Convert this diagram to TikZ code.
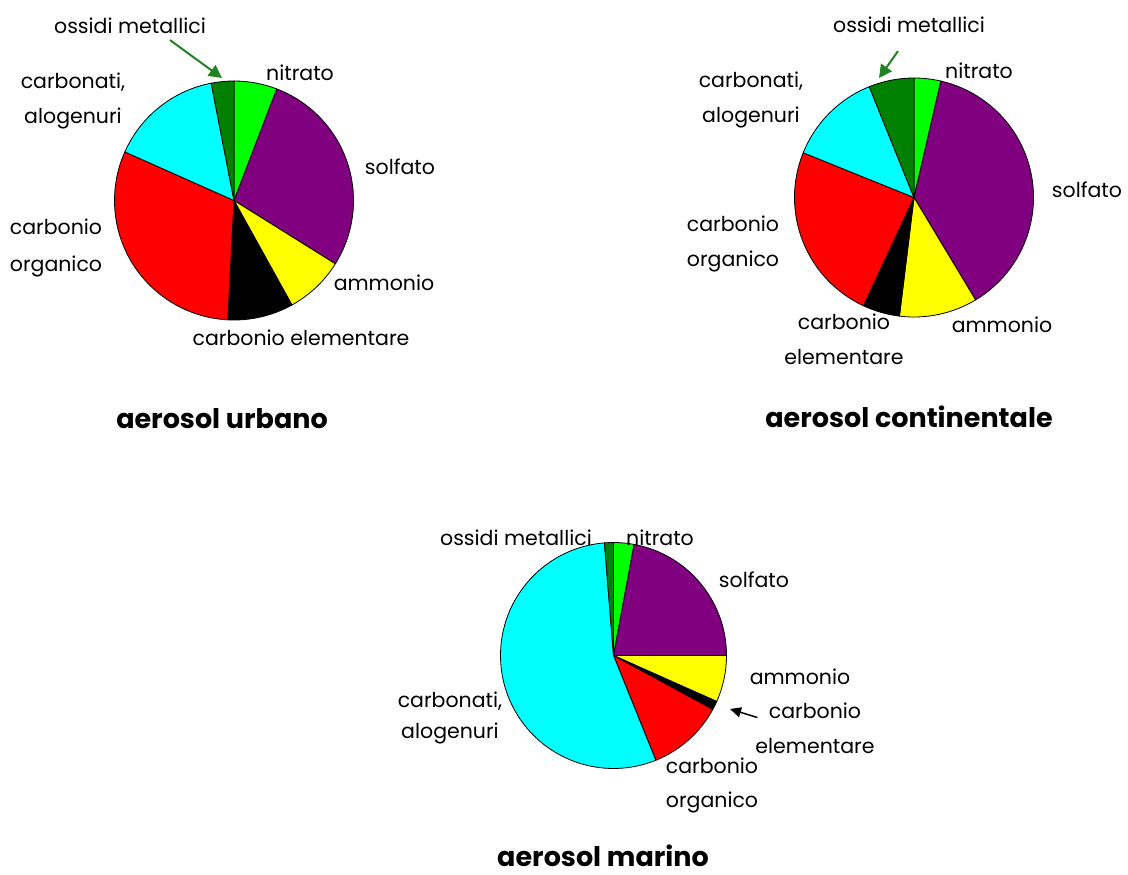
\documentclass[tikz,border=0pt]{standalone}
\usepackage{fontspec}
\setmainfont{Poppins}
\usepackage{xcolor}
\usetikzlibrary{arrows.meta}
\definecolor{colnitrato}{RGB}{0,255,0}
\definecolor{colsolfato}{RGB}{128,0,128}
\definecolor{colammonio}{RGB}{255,255,0}
\definecolor{colelement}{RGB}{0,0,0}
\definecolor{colorganico}{RGB}{255,0,0}
\definecolor{colcarbonati}{RGB}{0,255,255}
\definecolor{colossidi}{RGB}{0,128,0}
\definecolor{colfreccia}{RGB}{34,130,34}

\begin{document}
\begin{tikzpicture}[
  x=1pt, y=1pt,
  lbl/.style={font=\fontsize{20.5}{35}\selectfont, align=center, inner sep=0pt},
  lbltwo/.style={lbl, font=\fontsize{20.5}{37}\selectfont},
  titlebox/.style={font=\fontsize{27}{30}\selectfont\bfseries, inner sep=0pt, anchor=base, text depth=0pt},
  slice/.style={draw=black, line width=0.8pt, line join=round},
  pointer/.style={-{Triangle[length=13pt,width=13pt]}, line width=2pt}
]
  \useasboundingbox (0,0) rectangle (1128,-875);

  \coordinate (p1) at (234,-200.5);
  \coordinate (p2) at (914,-197.5);
  \coordinate (p3) at (613.5,-655.5);

  \foreach \a/\b/\c in {69/90/colnitrato, -32/69/colsolfato, -61/-32/colammonio, -93/-61/colelement,
                        156/267/colorganico, 101/156/colcarbonati, 90/101/colossidi}
    \filldraw[slice, fill=\c] (p1) -- ++(\a:119.5) arc[start angle=\a, end angle=\b, radius=119.5] -- cycle;

  \foreach \a/\b/\c in {77/90/colnitrato, -59/77/colsolfato, -97/-59/colammonio, 245/263/colelement,
                        158/245/colorganico, 112/158/colcarbonati, 90/112/colossidi}
    \filldraw[slice, fill=\c] (p2) -- ++(\a:119.5) arc[start angle=\a, end angle=\b, radius=119.5] -- cycle;

  \foreach \a/\b/\c in {79.5/90/colnitrato, 0/79.5/colsolfato, -24/0/colammonio, -28.5/-24/colelement,
                        -68/-28.5/colorganico, 94.6/292/colcarbonati, 90/94.6/colossidi}
    \filldraw[slice, fill=\c] (p3) -- ++(\a:113) arc[start angle=\a, end angle=\b, radius=113] -- cycle;

  \node[lbl] (om1) at (130,-26) {ossidi metallici};
  \node[lbl] (ni1) at (300,-73) {nitrato};
  \node[lbl] (ca1) at (73,-100.5) {carbonati,\\alogenuri};
  \node[lbl] (so1) at (400,-167) {solfato};
  \node[lbltwo] (or1) at (56,-248) {carbonio\\organico};
  \node[lbl] (am1) at (384,-283) {ammonio};
  \node[lbl] (el1) at (301,-338) {carbonio elementare};
  \node[titlebox] (t1) at (222,-428) {aerosol urbano};
  \coordinate (om1tip) at (222,-78);
  \draw[pointer, colfreccia] ([xshift=40pt,yshift=-6pt]om1.south) -- (om1tip);

  \node[lbl] (om2) at (909,-25) {ossidi metallici};
  \node[lbl] (ni2) at (979,-71) {nitrato};
  \node[lbl] (ca2) at (751,-99.5) {carbonati,\\alogenuri};
  \node[lbl] (so2) at (1087,-190) {solfato};
  \node[lbl] (or2) at (733,-244) {carbonio\\organico};
  \node[lbl] (am2) at (1002,-325) {ammonio};
  \node[lbl] (el2) at (844,-339.5) {carbonio\\elementare};
  \node[titlebox] (t2) at (909,-427) {aerosol continentale};
  \coordinate (om2tip) at (879,-78);
  \draw[pointer, colfreccia] ([xshift=-11pt,yshift=-18pt]om2.south) -- (om2tip);

  \node[lbl] (om3) at (516,-538) {ossidi metallici};
  \node[lbl] (ni3) at (660,-538) {nitrato};
  \node[lbl] (so3) at (754,-580) {solfato};
  \node[lbl] (am3) at (800,-677) {ammonio};
  \node[lbl] (el3) at (815,-728.5) {carbonio\\elementare};
  \node[lbl, font=\fontsize{20.5}{31}\selectfont] (ca3) at (450,-717.5) {carbonati,\\alogenuri};
  \node[lbl, font=\fontsize{20.5}{34}\selectfont] (or3) at (712,-785) {carbonio\\organico};
  \node[titlebox] (t3) at (603,-866) {aerosol marino};
  \coordinate (el3tip) at (730,-709);
  \draw[pointer, -{Triangle[length=11pt,width=10pt]}, line width=1.5pt, black] ([xshift=2pt,yshift=11pt]el3.west) -- (el3tip);
\end{tikzpicture}
\end{document}
